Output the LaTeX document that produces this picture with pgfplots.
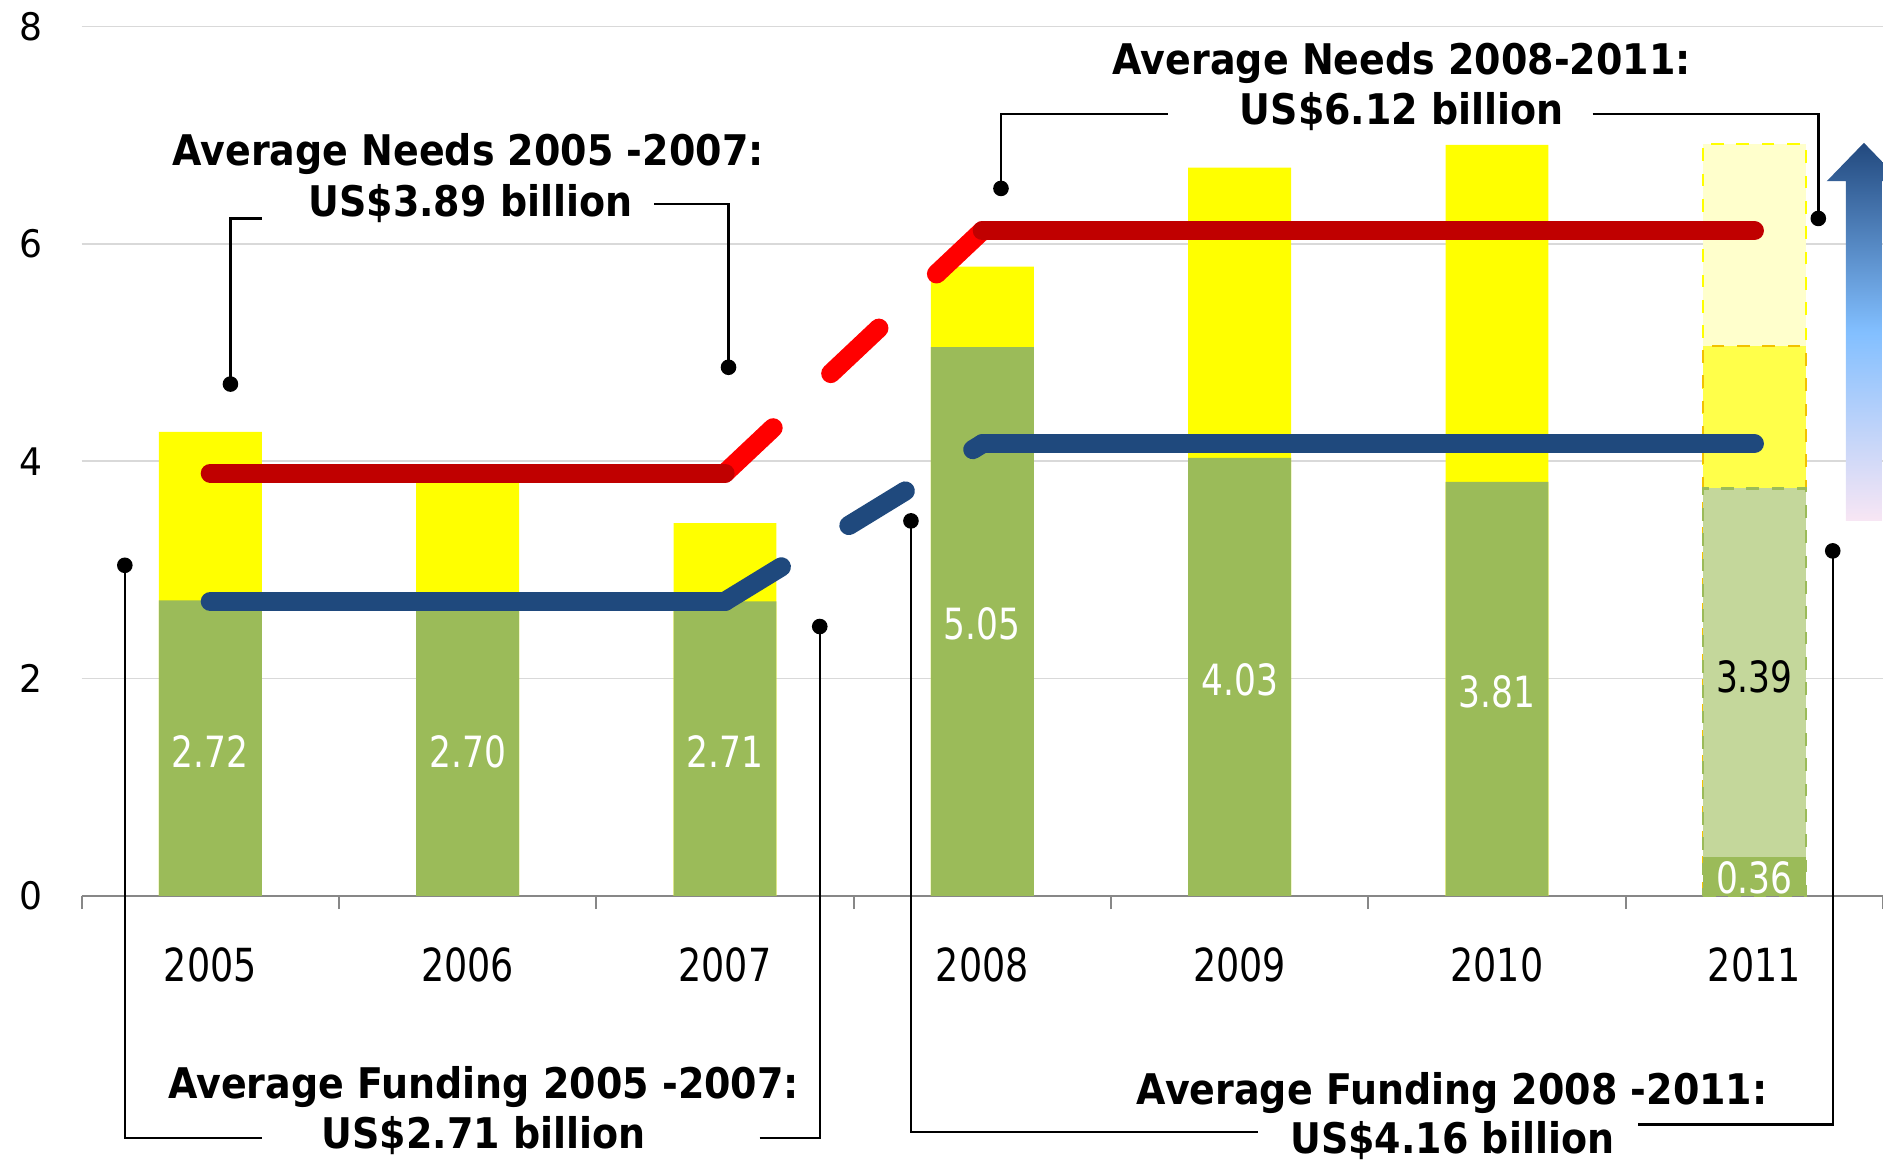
\documentclass[border=0pt]{standalone}
\usepackage{pgfplots}
\pgfplotsset{compat=1.18}
\usepackage{fontspec}
\setmainfont{DejaVu Sans}[FakeStretch=0.8]
\newfontfamily\annfont{DejaVu Sans}[FakeStretch=0.9]
\newfontfamily\ytickfont{DejaVu Sans}[FakeStretch=0.95]

\definecolor{fundgreen}{HTML}{9BBB59}
\definecolor{gapyellow}{HTML}{FFFF00}
\definecolor{needred}{HTML}{C00000}
\definecolor{brightred}{HTML}{FF0000}
\definecolor{fundblue}{HTML}{1F497D}
\definecolor{palegreen}{HTML}{C4D79B}
\definecolor{paleyellow}{HTML}{FFFFCC}
\definecolor{midyellow}{HTML}{FFFF4A}
\definecolor{dashorange}{HTML}{F2C200}
\definecolor{gridgray}{HTML}{D9D9D9}
\definecolor{axisgray}{HTML}{878787}
\definecolor{arrowtop}{HTML}{22497E}
\definecolor{arrowmid}{HTML}{82BFFF}
\definecolor{arrowbot}{HTML}{F8E6F4}

\tikzset{
  ann/.style={font=\annfont\bfseries\fontsize{10}{12}\selectfont, anchor=base, inner sep=0pt},
  brk/.style={line width=0.02cm, black},
  dot/.style={black},
}

\begin{document}
\begin{tikzpicture}
\path[use as bounding box] (0,0) rectangle (15.68,9.66);

\begin{axis}[
    at={(0.68cm,2.20cm)}, anchor=south west,
    scale only axis, width=15cm, height=7.24cm,
    xmin=-0.5, xmax=6.5, ymin=0, ymax=8,
    axis lines*=left,
    y axis line style={draw=none},
    x axis line style={axisgray, line width=0.5pt},
    xtick={0,...,6},
    xticklabels={2005,2006,2007,2008,2009,2010,2011},
    ytick={0,2,4,6,8},
    /pgf/number format/assume math mode=true,
    major tick length=0pt,
    minor xtick={-0.5,0.5,...,6.5},
    minor tick length=0.11cm,
    tick align=outside,
    minor tick style={axisgray, line width=0.5pt},
    ymajorgrids=true,
    major grid style={gridgray, line width=0.4pt},
    xticklabel style={font=\fontsize{10.8}{12}\selectfont, yshift=-0.31cm},
    yticklabel style={font=\ytickfont\fontsize{9}{11}\selectfont, xshift=-0.20cm},
    clip=false,
]

% needs (yellow, full height) and funding (green)
\addplot[ybar, bar width=0.4, bar shift=0pt, fill=gapyellow, draw=none] coordinates {
    (0,4.27) (1,3.88) (2,3.43) (3,5.79) (4,6.70) (5,6.91)
};
\addplot[ybar, bar width=0.4, bar shift=0pt, fill=fundgreen, draw=none] coordinates {
    (0,2.72) (1,2.70) (2,2.71) (3,5.05) (4,4.03) (5,3.81)
};

% 2011 projected pieces, drawn back to front
\addplot[ybar, bar width=0.4, bar shift=0pt, fill=paleyellow, draw=gapyellow, dashed, line width=0.6pt] coordinates {(6,6.92)};
\addplot[ybar, bar width=0.4, bar shift=0pt, fill=midyellow, draw=dashorange, dashed, line width=0.6pt] coordinates {(6,5.06)};
\addplot[ybar, bar width=0.4, bar shift=0pt, fill=palegreen, draw=fundgreen, dashed, line width=0.6pt] coordinates {(6,3.75)};
\addplot[ybar, bar width=0.4, bar shift=0pt, fill=fundgreen, draw=none] coordinates {(6,0.36)};

% bar labels
\addplot[draw=none, nodes near coords, point meta=explicit symbolic,
    nodes near coords align={center},
    every node near coord/.append style={white, font=\fontsize{10.2}{12}\selectfont}]
    coordinates {
    (0,1.33)[2.72] (1,1.33)[2.70] (2,1.33)[2.71] (3,2.50)[5.05]
    (4,1.99)[4.03] (5,1.88)[3.81] (6,0.17)[0.36]
};
\addplot[draw=none, nodes near coords, point meta=explicit symbolic,
    nodes near coords align={center},
    every node near coord/.append style={black, font=\fontsize{10.2}{12}\selectfont}]
    coordinates {(6,2.02)[3.39]};

% average lines: dashed links first, flat parts on top
\addplot[brightred, line width=0.16cm, line cap=round, dash pattern=on 0.55cm off 0.66cm] coordinates {(2,3.89) (3,6.12)};
\addplot[fundblue, line width=0.16cm, line cap=round, dash pattern=on 0.55cm off 0.66cm] coordinates {(2,2.71) (3,4.16)};
\addplot[needred, line width=0.16cm, line cap=round] coordinates {(0,3.89) (2,3.89)};
\addplot[needred, line width=0.16cm, line cap=round] coordinates {(3,6.12) (6,6.12)};
\addplot[fundblue, line width=0.16cm, line cap=round] coordinates {(0,2.71) (2,2.71)};
\addplot[fundblue, line width=0.16cm, line cap=round] coordinates {(3,4.16) (6,4.16)};

\end{axis}

% callouts, in pixel units of the reference
\begin{scope}[x=0.01cm, y=-0.01cm, shift={(0,9.66cm)}]
\node[ann] at (390,138) {Average Needs 2005 -2007:};
\node[ann] at (392,180) {US\$3.89 billion};
\draw[brk] (192,320) -- (192,182) -- (218,182);
\draw[brk] (545,170) -- (607,170) -- (607,306);
\fill[dot] (192,320) circle[radius=0.065cm];
\fill[dot] (607,306) circle[radius=0.065cm];

\node[ann] at (1168,62) {Average Needs 2008-2011:};
\node[ann] at (1168,104) {US\$6.12 billion};
\draw[brk] (834,157) -- (834,95) -- (973,95);
\draw[brk] (1327,95) -- (1515,95) -- (1515,182);
\fill[dot] (834,157) circle[radius=0.065cm];
\fill[dot] (1515,182) circle[radius=0.065cm];

\node[ann] at (403,915) {Average Funding 2005 -2007:};
\node[ann] at (403,957) {US\$2.71 billion};
\draw[brk] (104,471) -- (104,948) -- (218,948);
\draw[brk] (633,948) -- (683,948) -- (683,522);
\fill[dot] (104,471) circle[radius=0.065cm];
\fill[dot] (683,522) circle[radius=0.065cm];

\node[ann] at (1210,920) {Average Funding 2008 -2011:};
\node[ann] at (1210,961) {US\$4.16 billion};
\draw[brk] (759,434) -- (759,943) -- (1048,943);
\draw[brk] (1365,937) -- (1527,937) -- (1527,459);
\fill[dot] (759,434) circle[radius=0.065cm];
\fill[dot] (1527,459) circle[radius=0.065cm];

\shade[top color=arrowtop, bottom color=arrowbot, middle color=arrowmid]
    (1538,434) -- (1538,151) -- (1522,151) -- (1553,119) -- (1584,151)
    -- (1568,151) -- (1568,434) -- cycle;
\end{scope}
\end{tikzpicture}
\end{document}
